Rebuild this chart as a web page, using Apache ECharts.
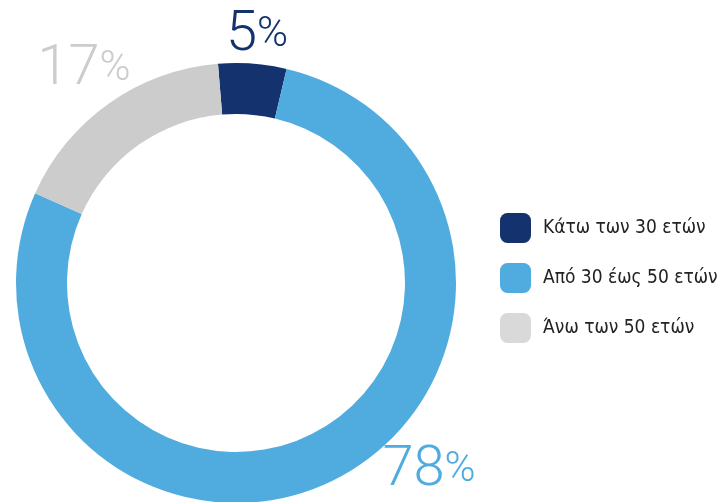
<!DOCTYPE html>
<html>
<head>
<meta charset="utf-8">
<script src="https://cdn.jsdelivr.net/npm/echarts@6/dist/echarts.min.js"></script>
<style>
  html, body { margin: 0; padding: 0; background: #fff; }
  #chart { width: 723px; height: 502px; }
</style>
</head>
<body>
<div id="chart"></div>
<script>
// age groups and their share (%)
var arrCategories = ['Κάτω των 30 ετών', 'Από 30 έως 50 ετών', 'Άνω των 50 ετών'];
var arrValues = [5, 78, 17];
var arrColors = ['#14336e', '#50acdf', '#cccccc'];
var arrLegendColors = ['#14336e', '#50acdf', '#d9d9d9'];

// where each percentage label sits (layout only)
var arrLabelPos = [[257, 36], [429, 471], [84, 70]];

var oChart = echarts.init(document.getElementById('chart'));

var arrData = [];
var arrLegend = [];
for (var i = 0; i < arrCategories.length; i++) {
    arrData.push({
        name: arrCategories[i],
        value: arrValues[i],
        itemStyle: { color: arrColors[i] },
        label: {
            rich: {
                n: { fontSize: 56, color: arrColors[i], fontFamily: 'Roboto', fontWeight: 300 },
                p: { fontSize: 42, color: arrColors[i], fontFamily: 'Roboto', fontWeight: 300, padding: [0, 0, 2, 0] }
            }
        }
    });
    arrLegend.push({ name: arrCategories[i], itemStyle: { color: arrLegendColors[i] } });
}

var option = {
    animation: false,
    legend: {
        orient: 'vertical',
        left: 500,
        top: 213,
        padding: 0,
        itemWidth: 31,
        itemHeight: 30,
        itemGap: 20,
        icon: 'roundRect',
        selectedMode: false,
        textStyle: {
            fontFamily: 'DejaVu Sans Condensed',
            fontSize: 19,
            color: '#222',
            padding: [0, 0, 0, 7]
        },
        data: arrLegend
    },
    series: [{
        type: 'pie',
        center: [236, 283],
        radius: [169, 220],
        startAngle: 94.7,
        clockwise: true,
        avoidLabelOverlap: false,
        silent: true,
        label: {
            show: true,
            position: 'outside',
            formatter: function (p) {
                return '{n|' + p.value + '}{p|%}';
            }
        },
        labelLine: { show: false },
        labelLayout: function (params) {
            var pos = arrLabelPos[params.dataIndex];
            return { x: pos[0], y: pos[1], align: 'center', verticalAlign: 'middle' };
        },
        data: arrData
    }]
};

oChart.setOption(option);
</script>
</body>
</html>
